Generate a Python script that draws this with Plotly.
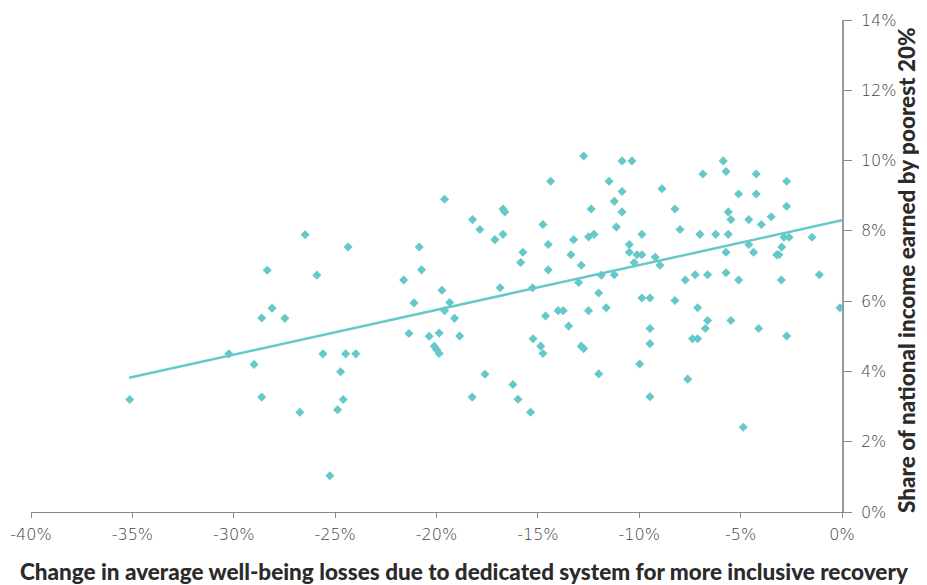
import plotly.graph_objects as go

# Change in average well-being losses (%), share of income of poorest 20% (%)
loss_change = [
    -35.13, -30.24, -29.0, -28.62, -28.62, -28.35, -28.11, -27.48, -26.48, -26.74,
    -25.90, -25.60, -25.26, -24.88, -24.73, -24.60, -24.48, -24.36, -23.98,
    -21.62, -20.85, -20.74, -21.11, -21.36, -19.73, -19.60, -19.35, -19.60, -19.11,
    -20.36, -19.87, -20.11, -19.99, -19.87, -18.86, -18.22, -17.86, -17.12, -16.72,
    -16.63, -16.72, -16.86, -17.61, -18.24, -16.23, -15.98, -15.36, -15.74, -15.85,
    -15.26, -15.24, -14.86, -14.75, -14.62, -14.75, -14.49, -14.49, -14.37, -14.00,
    -13.75, -13.48, -13.37, -13.24, -12.86, -12.99, -12.86, -12.74, -12.74, -12.50,
    -12.37, -12.23, -12.50, -12.00, -11.87, -11.63, -12.00, -11.49, -11.23, -11.23,
    -11.13, -10.85, -10.36, -10.85, -10.85, -10.49, -10.49, -10.11, -9.87, -10.25,
    -9.87, -9.21, -8.98, -8.88, -9.87, -9.47, -9.47, -9.47, -9.98, -9.47,
    -8.24, -7.99, -8.24, -7.73, -7.24, -7.01, -6.86, -7.12, -6.63, -6.63,
    -6.74, -7.37, -7.12, -7.61, -6.23, -5.86, -5.72, -5.61, -5.48, -5.61,
    -5.72, -5.72, -5.10, -5.10, -5.48, -4.87, -4.60, -4.60, -4.36, -4.23,
    -4.23, -3.98, -4.11, -3.49, -3.22, -3.11, -2.97, -2.86, -2.61, -2.99,
    -2.73, -2.73, -2.73, -1.48, -1.12, -0.10,
]
income_share = [
    3.20, 4.50, 4.20, 3.27, 5.52, 6.88, 5.80, 5.51, 7.89, 2.84,
    6.74, 4.50, 1.03, 2.91, 3.99, 3.20, 4.50, 7.54, 4.50,
    6.60, 7.54, 6.89, 5.95, 5.08, 6.31, 8.90, 5.96, 5.73, 5.51,
    5.00, 5.09, 4.72, 4.62, 4.51, 5.01, 8.32, 8.04, 7.75, 8.62,
    8.54, 7.90, 6.38, 3.92, 3.27, 3.63, 3.21, 2.84, 7.39, 7.10,
    6.38, 4.93, 4.72, 4.51, 5.58, 8.18, 7.61, 6.89, 9.41, 5.73,
    5.73, 5.29, 7.32, 7.75, 7.02, 6.53, 4.72, 4.65, 10.13, 7.83,
    8.62, 7.90, 5.73, 6.23, 6.74, 5.81, 3.93, 9.41, 8.84, 6.75,
    8.11, 9.99, 9.99, 9.12, 8.54, 7.61, 7.39, 7.32, 7.32, 7.10,
    7.90, 7.25, 7.02, 9.20, 6.09, 6.09, 5.22, 4.79, 4.21, 3.28,
    8.62, 8.04, 6.02, 6.60, 6.75, 7.90, 9.62, 5.81, 6.75, 5.45,
    5.22, 4.93, 4.93, 3.78, 7.90, 9.99, 9.69, 8.54, 8.32, 7.90,
    7.39, 6.81, 9.05, 6.60, 5.45, 2.41, 8.32, 7.61, 7.39, 9.62,
    9.05, 8.18, 5.22, 8.40, 7.32, 7.32, 7.54, 7.82, 7.82, 6.60,
    9.41, 8.70, 5.01, 7.82, 6.75, 5.81,
]

# Trend line end points
trend_x = [-35.16, 0.0]
trend_y = [3.82, 8.30]

x_ticks = [-40, -35, -30, -25, -20, -15, -10, -5, 0]
x_tick_labels = ["-40%", "-35%", "-30%", "-25%", "-20%", "-15%", "-10%", "-5%", "0%"]
y_ticks = [0, 2, 4, 6, 8, 10, 12, 14]
y_tick_labels = ["0%", "2%", "4%", "6%", "8%", "10%", "12%", "14%"]

x_title = "Change in average well-being losses due to dedicated system for more inclusive recovery"
y_title = "Share of national income earned by poorest 20%"

teal = "rgb(102,201,201)"

fig = go.Figure()
fig.add_trace(go.Scatter(
    x=loss_change, y=income_share, mode="markers",
    marker=dict(symbol="diamond", size=7, color=teal, line=dict(width=0)),
    showlegend=False, hoverinfo="x+y",
))
fig.add_trace(go.Scatter(
    x=trend_x, y=trend_y, mode="lines",
    line=dict(color=teal, width=2.5),
    showlegend=False, hoverinfo="skip",
))

title_font = dict(family="Lato, 'Open Sans', sans-serif", size=22.5, color="#2b2b2b", weight=900)
tick_font = dict(family="'DejaVu Sans', sans-serif", size=16, color="#444444", weight=200)

fig.update_layout(
    width=919, height=577,
    margin=dict(l=23, r=85, t=12, b=73),
    paper_bgcolor="white", plot_bgcolor="white",
    font=dict(family="'DejaVu Sans', sans-serif", color="#444444", size=15),
    xaxis=dict(
        range=[-40, 0], tickvals=x_ticks, ticktext=x_tick_labels,
        showgrid=False, zeroline=False, automargin=False,
        showline=True, linecolor="#8a8a8a", linewidth=1,
        ticks="outside", ticklen=5, tickcolor="#8a8a8a",
        tickfont=tick_font, ticklabelstandoff=3,
    ),
    yaxis=dict(
        range=[0, 14], tickvals=y_ticks, ticktext=y_tick_labels,
        side="right", showgrid=False, zeroline=False, automargin=False,
        showline=True, linecolor="#9a9a9a", linewidth=1.5,
        ticks="outside", ticklen=8, tickcolor="#8a8a8a",
        tickfont=tick_font,
        ticklabelstandoff=6,
    ),
    annotations=[
        dict(
            text=x_title, font=title_font, showarrow=False,
            xref="paper", yref="paper", x=0.5345, y=0,
            xanchor="center", yanchor="middle", yshift=-59,
        ),
        dict(
            text=y_title, font=title_font, showarrow=False, textangle=-90,
            xref="paper", yref="paper", x=1, y=0.5,
            xanchor="center", yanchor="middle", xshift=64, yshift=-4,
        ),
    ],
)

fig.write_html("out.html")
